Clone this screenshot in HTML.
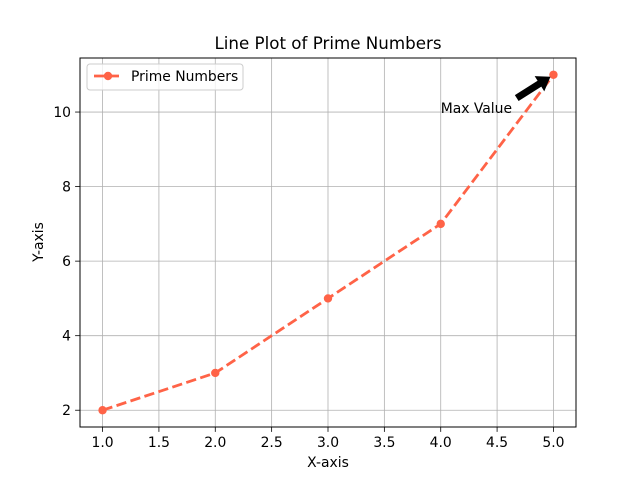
<!DOCTYPE html>
<html><head><meta charset="utf-8"><style>
body{margin:0;background:#fff;}
text{font-family:"DejaVu Sans","Liberation Sans",sans-serif;}
</style></head><body>
<svg id="chart" width="640" height="480" xmlns="http://www.w3.org/2000/svg">
<rect width="640" height="480" fill="#fff"/>
<g id="grid"></g>
<g id="ticks"></g>
<g id="series"></g>
<rect x="80" y="58" width="496" height="369" fill="none" stroke="#000" stroke-width="1"/>
<text x="328" y="49" font-size="16.7" text-anchor="middle">Line Plot of Prime Numbers</text>
<text x="328" y="467" font-size="13.9" text-anchor="middle">X-axis</text>
<text x="0" y="0" font-size="13.9" text-anchor="middle" transform="translate(43,242) rotate(-90)">Y-axis</text>
<g id="annot"></g>
<g>
<rect x="87" y="64" width="156" height="26" rx="3" fill="#fff" fill-opacity="0.8" stroke="#ccc"/>
<line x1="94" y1="76" x2="122" y2="76" stroke="#ff6347" stroke-width="2.8" stroke-dasharray="10.3,4.4"/>
<circle cx="108" cy="76" r="4.2" fill="#ff6347"/>
<text x="131" y="81" font-size="13.9">Prime Numbers</text>
</g>
</svg>
<script>
const xValues=[1,2,3,4,5];
const yValues=[2,3,5,7,11];
const xTicks=[1.0,1.5,2.0,2.5,3.0,3.5,4.0,4.5,5.0];
const yTicks=[2,4,6,8,10];
const annotX=5, annotY=11, annotTextX=4, annotTextY=10;
const NS="http://www.w3.org/2000/svg";
const L=80,R=576,T=58,B=427,xmin=0.8,xmax=5.2,ymin=1.55,ymax=11.45;
const sx=v=>L+(v-xmin)/(xmax-xmin)*(R-L);
const sy=v=>B-(v-ymin)/(ymax-ymin)*(B-T);
function mk(tag,attrs,parent){const e=document.createElementNS(NS,tag);for(const k in attrs)e.setAttribute(k,attrs[k]);document.getElementById(parent).appendChild(e);return e;}
xTicks.forEach(v=>{const x=sx(v);
const g=mk('line',{x1:x,x2:x,y1:T,y2:B,stroke:'#b0b0b0','stroke-width':0.8},'grid');


const t=mk('line',{x1:x,x2:x,y1:B,y2:B+4.9,stroke:'#000','stroke-width':0.8},'ticks');


const l=mk('text',{x:x,y:B+20,'font-size':13.9,'text-anchor':'middle'},'ticks');l.textContent=v.toFixed(1);


});
yTicks.forEach(v=>{const y=sy(v);
const g=mk('line',{x1:L,x2:R,y1:y,y2:y,stroke:'#b0b0b0','stroke-width':0.8},'grid');


const t=mk('line',{x1:L-4.9,x2:L,y1:y,y2:y,stroke:'#000','stroke-width':0.8},'ticks');


const l=mk('text',{x:L-9,y:y+5,'font-size':13.9,'text-anchor':'end'},'ticks');l.textContent=v;


});
const pts=xValues.map((x,i)=>sx(x)+','+sy(yValues[i])).join(' ');
const pl=mk('polyline',{points:pts,fill:'none',stroke:'#ff6347','stroke-width':2.8,'stroke-dasharray':'10.3,4.4'},'series');


xValues.forEach((x,i)=>{const c=mk('circle',{cx:sx(x),cy:sy(yValues[i]),r:4.2,fill:'#ff6347'},'series');

});
const tx=sx(annotTextX),ty=sy(annotTextY);
const at=mk('text',{x:tx,y:ty+1,'font-size':13.9},'annot');at.textContent='Max Value';


const hx=sx(annotX)-3,hy=sy(annotY)+2,bx=tx+76,by=ty-14;
const ang=Math.atan2(hy-by,hx-bx),len=Math.hypot(hx-bx,hy-by);
const g=mk('g',{transform:`translate(${bx},${by}) rotate(${ang*180/Math.PI})`},'annot');


const p=document.createElementNS(NS,'path');
p.setAttribute('d',`M0,-3.5 L${len-13},-3.5 L${len-13},-9 L${len},0 L${len-13},9 L${len-13},3.5 L0,3.5 Z`);
p.setAttribute('fill','#000');g.appendChild(p);
</script>
</body></html>
